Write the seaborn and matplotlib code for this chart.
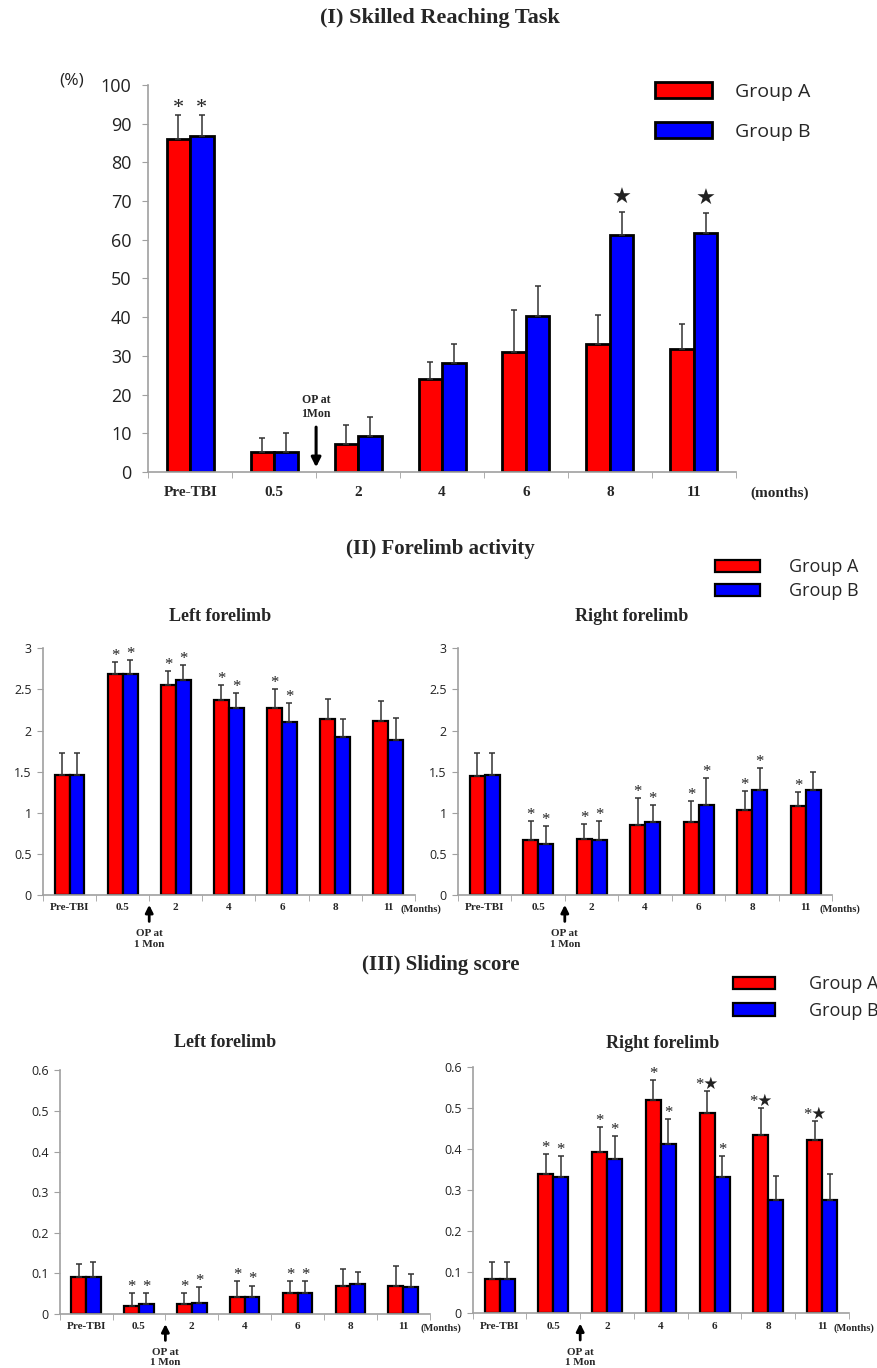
import pandas as pd
import numpy as np
import matplotlib.pyplot as plt
import seaborn as sns

months = ["Pre-TBI", "0.5", "2", "4", "6", "8", "11"]
groups = ["Group A", "Group B"]

# (I) skilled reaching, %
reach_a = [86.0, 5.1, 7.2, 23.9, 31.0, 33.0, 31.8]
reach_a_err = [6.3, 3.8, 5.0, 4.6, 10.8, 7.5, 6.4]
reach_b = [86.8, 5.1, 9.4, 28.1, 40.3, 61.1, 61.8]
reach_b_err = [5.5, 4.9, 4.9, 4.9, 7.7, 6.0, 5.1]
reach_a_marks = ["*", "", "", "", "", "", ""]
reach_b_marks = ["*", "", "", "", "", "★", "★"]

# (II) forelimb activity
left_act_a = [1.46, 2.69, 2.56, 2.37, 2.27, 2.14, 2.12]
left_act_a_err = [0.26, 0.14, 0.17, 0.18, 0.23, 0.24, 0.24]
left_act_b = [1.46, 2.69, 2.62, 2.27, 2.10, 1.92, 1.89]
left_act_b_err = [0.26, 0.17, 0.18, 0.19, 0.23, 0.22, 0.26]
left_act_a_marks = ["", "*", "*", "*", "*", "", ""]
left_act_b_marks = ["", "*", "*", "*", "*", "", ""]

right_act_a = [1.44, 0.66, 0.68, 0.85, 0.88, 1.03, 1.08]
right_act_a_err = [0.29, 0.24, 0.18, 0.33, 0.26, 0.23, 0.17]
right_act_b = [1.46, 0.62, 0.67, 0.88, 1.09, 1.27, 1.28]
right_act_b_err = [0.27, 0.22, 0.23, 0.21, 0.33, 0.27, 0.22]
right_act_a_marks = ["", "*", "*", "*", "*", "*", "*"]
right_act_b_marks = ["", "*", "*", "*", "*", "*", ""]

# (III) sliding score
left_slide_a = [0.090, 0.020, 0.025, 0.041, 0.052, 0.069, 0.069]
left_slide_a_err = [0.033, 0.031, 0.026, 0.041, 0.030, 0.041, 0.049]
left_slide_b = [0.090, 0.025, 0.028, 0.043, 0.052, 0.074, 0.067]
left_slide_b_err = [0.037, 0.026, 0.038, 0.027, 0.030, 0.029, 0.031]
left_slide_a_marks = ["", "*", "*", "*", "*", "", ""]
left_slide_b_marks = ["", "*", "*", "*", "*", "", ""]

right_slide_a = [0.084, 0.339, 0.392, 0.519, 0.489, 0.435, 0.422]
right_slide_a_err = [0.040, 0.050, 0.062, 0.050, 0.053, 0.066, 0.046]
right_slide_b = [0.084, 0.333, 0.375, 0.413, 0.332, 0.277, 0.277]
right_slide_b_err = [0.040, 0.051, 0.056, 0.060, 0.052, 0.058, 0.063]
right_slide_a_marks = ["", "*", "*", "*", "*★", "*★", "*★"]
right_slide_b_marks = ["", "*", "*", "*", "*", "", ""]

palette = {"Group A": "#ff0000", "Group B": "#0000ff"}
serif = ["Liberation Serif", "DejaVu Serif"]
mark_font = ["Liberation Serif", "DejaVu Sans"]

sns.set_style("white")
plt.rcParams["font.family"] = ["Open Sans", "DejaVu Sans"]

fig = plt.figure(figsize=(8.77, 13.68), dpi=100)


def draw_panel(ax, a, a_err, b, b_err, a_marks, b_marks, ymax, ystep,
               tick_size, xlab_size, mark_size, lw):
    df = pd.DataFrame({
        "month": months * 2,
        "value": a + b,
        "group": [groups[0]] * len(months) + [groups[1]] * len(months),
    })
    sns.barplot(data=df, x="month", y="value", hue="group", order=months,
                hue_order=groups, palette=palette, width=0.56, errorbar=None,
                edgecolor="black", linewidth=lw, saturation=1, legend=False,
                ax=ax)
    for cont, vals, errs, marks in zip(ax.containers, [a, b], [a_err, b_err],
                                       [a_marks, b_marks]):
        xs = [p.get_x() + p.get_width() / 2 for p in cont]
        ax.errorbar(xs, vals, yerr=[np.zeros(len(vals)), errs], fmt="none",
                    ecolor="#333333", elinewidth=1.1, capsize=2.5,
                    capthick=1.1, zorder=1)
        for x, v, e, m in zip(xs, vals, errs, marks):
            if m:
                off = 6 if m == "★" else 1.5
                ax.annotate(m, (x, v + e), xytext=(0, off),
                            textcoords="offset points", ha="center",
                            va="baseline", fontsize=mark_size,
                            family=mark_font, color="#222222")
    ax.set_xlim(-0.5, len(months) - 0.5)
    ax.set_ylim(0, ymax)
    ax.set_yticks(np.arange(0, ymax + ystep / 2, ystep))
    ax.set_yticklabels([f"{t:g}" for t in np.arange(0, ymax + ystep / 2, ystep)])
    ax.set_xlabel("")
    ax.set_ylabel("")
    sns.despine(ax=ax)
    for s in ["left", "bottom"]:
        ax.spines[s].set_color("#a0a0a0")
        ax.spines[s].set_linewidth(1.2)
    ax.set_xticks(np.arange(-0.5, len(months), 1.0), minor=True)
    ax.tick_params(axis="x", which="major", length=0, labelsize=xlab_size)
    ax.tick_params(axis="x", which="minor", length=4, color="#a0a0a0",
                   direction="out", bottom=True)
    ax.tick_params(axis="y", length=4, color="#a0a0a0", direction="out",
                   left=True, labelsize=tick_size, labelcolor="#222222")
    for lbl in ax.get_xticklabels():
        lbl.set_family(serif)
        lbl.set_fontweight("bold")


# ---------- (I) Skilled Reaching Task ----------
ax1 = fig.add_axes([0.169, 0.655, 0.670, 0.283])
draw_panel(ax1, reach_a, reach_a_err, reach_b, reach_b_err,
           reach_a_marks, reach_b_marks, 100, 10, 13, 11, 16, 2.0)
ax1.tick_params(axis="x", which="major", pad=10)
ax1.tick_params(axis="y", pad=8)
ax1.text(-0.13, 1.012, "(%)", transform=ax1.transAxes, fontsize=12.5,
         ha="center", va="center", color="#222222")
ax1.text(1.075, -0.055, "(months)", transform=ax1.transAxes, fontsize=11,
         ha="center", va="center", family=serif, fontweight="bold")
ax1.annotate("", xy=(1.5, 0.5), xytext=(1.5, 12.3),
             arrowprops=dict(arrowstyle="-|>", color="black", lw=2.2,
                             mutation_scale=14))
ax1.text(1.5, 16.8, "OP at\n1Mon", ha="center", va="center", fontsize=8.5,
         family=serif, fontweight="bold", linespacing=1.3)
fig.text(0.502, 0.987, "(I) Skilled Reaching Task", ha="center", va="center",
         fontsize=16, family=serif, fontweight="bold")
fig.legend(ax1.containers[:2], groups, loc="upper left",
           bbox_to_anchor=(0.747, 0.940), frameon=False, fontsize=14,
           handlelength=2.9, handleheight=0.9, handletextpad=1.2,
           labelspacing=1.1, borderpad=0, borderaxespad=0)

# ---------- (II) Forelimb activity ----------
ax2 = fig.add_axes([0.049, 0.346, 0.424, 0.180])
draw_panel(ax2, left_act_a, left_act_a_err, left_act_b, left_act_b_err,
           left_act_a_marks, left_act_b_marks, 3, 0.5, 9, 8, 12, 1.6)
ax2.set_title("Left forelimb", x=0.476, pad=20, fontsize=13, family=serif,
              fontweight="bold")

ax3 = fig.add_axes([0.522, 0.346, 0.427, 0.180])
draw_panel(ax3, right_act_a, right_act_a_err, right_act_b, right_act_b_err,
           right_act_a_marks, right_act_b_marks, 3, 0.5, 9, 8, 12, 1.6)
ax3.set_title("Right forelimb", x=0.465, pad=20, fontsize=13, family=serif,
              fontweight="bold")

fig.text(0.502, 0.599, "(II) Forelimb activity", ha="center", va="center",
         fontsize=15, family=serif, fontweight="bold")
fig.legend(ax2.containers[:2], groups, loc="upper left",
           bbox_to_anchor=(0.815, 0.592), frameon=False, fontsize=13,
           handlelength=2.5, handleheight=0.7, handletextpad=1.6,
           labelspacing=0.35, borderpad=0, borderaxespad=0)

# ---------- (III) Sliding score ----------
ax4 = fig.add_axes([0.068, 0.0395, 0.422, 0.178])
draw_panel(ax4, left_slide_a, left_slide_a_err, left_slide_b, left_slide_b_err,
           left_slide_a_marks, left_slide_b_marks, 0.6, 0.1, 9, 8, 12, 1.6)
ax4.set_title("Left forelimb", x=0.446, pad=17, fontsize=13, family=serif,
              fontweight="bold")

ax5 = fig.add_axes([0.539, 0.040, 0.429, 0.180])
draw_panel(ax5, right_slide_a, right_slide_a_err, right_slide_b,
           right_slide_b_err, right_slide_a_marks, right_slide_b_marks,
           0.6, 0.1, 9, 8, 12, 1.6)
ax5.set_title("Right forelimb", x=0.505, pad=14, fontsize=13, family=serif,
              fontweight="bold")

fig.text(0.502, 0.2946, "(III) Sliding score", ha="center", va="center",
         fontsize=15, family=serif, fontweight="bold")
fig.legend(ax5.containers[:2], groups, loc="upper left",
           bbox_to_anchor=(0.836, 0.287), frameon=False, fontsize=13,
           handlelength=2.3, handleheight=0.7, handletextpad=1.9,
           labelspacing=0.45, borderpad=0, borderaxespad=0)

# small axes: (Months) label and the upward OP arrow under the x-axis
for ax, mx in [(ax2, 1.016), (ax3, 1.02), (ax4, 1.03), (ax5, 1.013)]:
    ax.tick_params(axis="x", which="major", pad=6)
    ax.tick_params(axis="y", pad=4)
    ax.text(mx, -0.06, "(Months)", transform=ax.transAxes, fontsize=7.5,
            ha="center", va="center", family=serif, fontweight="bold")
    tr = ax.get_xaxis_transform()
    ax.annotate("", xy=(1.5, -0.03), xytext=(1.5, -0.12), xycoords=tr,
                textcoords=tr, annotation_clip=False,
                arrowprops=dict(arrowstyle="-|>", color="black", lw=2.0,
                                mutation_scale=11))
    ax.text(1.5, -0.18, "OP at\n1 Mon", transform=tr, ha="center",
            va="center", fontsize=8, family=serif, fontweight="bold",
            linespacing=1.2, clip_on=False)

fig.savefig("out.png", dpi=100)
